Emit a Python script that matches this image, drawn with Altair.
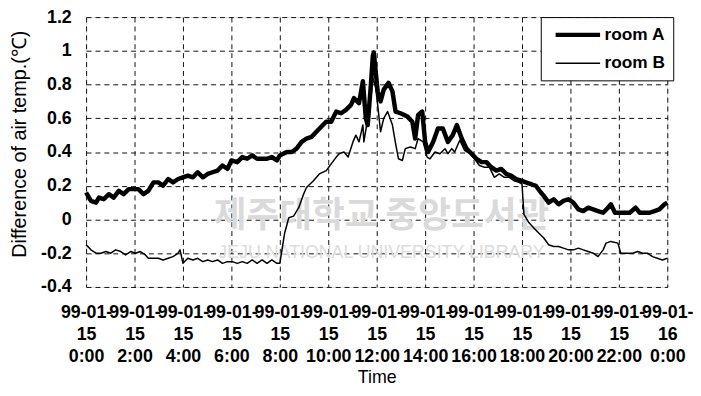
import altair as alt
import pandas as pd

# ---- data ----
hours_a = [0.00,0.20,0.41,0.53,0.73,0.94,1.14,1.35,1.55,1.76,2.00,2.16,2.37,2.57,2.78,2.98,3.18,3.39,3.59,3.80,
           4.00,4.20,4.41,4.61,4.82,5.02,5.22,5.43,5.63,5.84,6.00,6.24,6.45,6.65,6.86,7.06,7.27,7.47,7.67,7.88,
           8.00,8.29,8.49,8.69,8.90,9.10,9.31,9.51,9.71,9.92,10.12,10.33,10.53,10.73,10.94,11.06,11.27,11.43,11.55,11.63,
           11.76,11.84,11.88,12.04,12.16,12.29,12.49,12.65,12.78,12.98,13.27,13.47,13.59,13.71,13.88,14.00,14.12,14.33,14.53,14.73,
           14.94,15.14,15.31,15.51,15.71,15.92,16.12,16.33,16.53,16.73,16.94,17.14,17.35,17.55,17.76,17.96,18.16,18.37,18.57,18.78,
           18.90,19.10,19.31,19.51,19.71,19.92,20.12,20.33,20.53,20.73,20.94,21.14,21.35,21.55,21.67,21.84,22.04,22.24,22.45,22.69,
           22.86,23.06,23.27,23.47,23.67,23.88,24.00]
temp_a = [0.16,0.11,0.10,0.13,0.12,0.15,0.13,0.17,0.15,0.18,0.18,0.18,0.15,0.17,0.22,0.22,0.20,0.24,0.22,0.24,
          0.25,0.26,0.25,0.28,0.25,0.27,0.28,0.29,0.32,0.30,0.35,0.34,0.37,0.36,0.38,0.36,0.36,0.36,0.37,0.35,
          0.38,0.40,0.40,0.42,0.46,0.48,0.49,0.52,0.55,0.58,0.58,0.64,0.63,0.65,0.68,0.72,0.69,0.82,0.60,0.56,
          0.80,0.97,0.99,0.76,0.70,0.77,0.81,0.76,0.64,0.63,0.61,0.58,0.48,0.62,0.64,0.46,0.40,0.46,0.54,0.54,
          0.46,0.50,0.56,0.48,0.42,0.39,0.36,0.34,0.34,0.31,0.29,0.30,0.27,0.26,0.24,0.23,0.22,0.21,0.20,0.16,
          0.14,0.10,0.12,0.09,0.11,0.12,0.10,0.06,0.05,0.07,0.06,0.05,0.04,0.07,0.09,0.04,0.04,0.04,0.04,0.07,
          0.04,0.04,0.04,0.05,0.06,0.09,0.10]

hours_b = [0.00,0.20,0.41,0.61,0.82,1.02,1.22,1.43,1.63,1.84,2.04,2.24,2.45,2.57,2.78,2.98,3.18,3.39,3.59,3.80,
           3.88,4.00,4.20,4.41,4.61,4.82,5.02,5.22,5.43,5.63,5.84,6.04,6.24,6.45,6.65,6.86,7.06,7.27,7.47,7.67,
           7.88,8.00,8.20,8.37,8.57,8.78,8.98,9.10,9.39,9.63,9.92,10.12,10.33,10.45,10.65,10.82,11.02,11.14,11.27,11.43,
           11.47,11.63,11.76,11.84,11.96,12.04,12.16,12.29,12.45,12.65,12.78,12.90,13.06,13.18,13.39,13.59,13.71,13.92,14.08,14.20,
           14.41,14.61,14.82,14.94,15.10,15.22,15.43,15.63,15.84,16.04,16.24,16.45,16.65,16.86,17.06,17.27,17.47,17.67,17.88,18.00,
           18.08,18.29,18.49,18.69,18.90,19.10,19.31,19.51,19.71,19.92,20.12,20.33,20.53,20.73,20.94,21.14,21.35,21.47,21.67,21.96,
           22.08,22.37,22.57,22.78,22.98,23.18,23.39,23.59,23.80,24.00]
temp_b = [-0.15,-0.18,-0.20,-0.20,-0.19,-0.20,-0.18,-0.19,-0.21,-0.19,-0.20,-0.19,-0.21,-0.23,-0.23,-0.23,-0.24,-0.23,-0.22,-0.20,
          -0.18,-0.26,-0.23,-0.24,-0.23,-0.25,-0.24,-0.25,-0.24,-0.26,-0.25,-0.25,-0.26,-0.25,-0.26,-0.24,-0.26,-0.24,-0.26,-0.24,
          -0.26,-0.26,-0.08,0.01,0.02,0.07,0.15,0.19,0.23,0.27,0.29,0.33,0.37,0.39,0.40,0.37,0.46,0.50,0.46,0.56,
          0.46,0.60,0.72,0.84,0.78,0.68,0.52,0.60,0.64,0.56,0.45,0.36,0.35,0.42,0.43,0.42,0.48,0.46,0.37,0.36,
          0.40,0.39,0.42,0.39,0.42,0.40,0.47,0.41,0.39,0.36,0.32,0.31,0.31,0.25,0.27,0.25,0.25,0.23,0.22,0.21,
          0.03,-0.02,-0.05,-0.08,-0.11,-0.15,-0.16,-0.16,-0.17,-0.18,-0.18,-0.17,-0.18,-0.19,-0.20,-0.22,-0.18,-0.14,-0.13,-0.14,
          -0.20,-0.20,-0.20,-0.19,-0.20,-0.20,-0.22,-0.23,-0.24,-0.23]

series_names = ["room A", "room B"]
x_tick_hours = [0, 2, 4, 6, 8, 10, 12, 14, 16, 18, 20, 22, 24]
y_ticks = [-0.4, -0.2, 0.0, 0.2, 0.4, 0.6, 0.8, 1.0, 1.2]
watermark_text = ["제주대학교 중앙도서관", "JEJU NATIONAL UNIVERSITY LIBRARY"]
watermark_hour = [12.2, 12.2]
watermark_value = [0.02, -0.20]

df = pd.concat([
    pd.DataFrame({"hour": hours_a, "value": temp_a, "room": series_names[0]}),
    pd.DataFrame({"hour": hours_b, "value": temp_b, "room": series_names[1]}),
])
wm = pd.DataFrame({"hour": watermark_hour, "value": watermark_value, "text": watermark_text})

FONT = "Liberation Sans"
x_scale = alt.Scale(domain=[0, 24], nice=False, zero=False)
y_scale = alt.Scale(domain=[-0.4, 1.2], nice=False, zero=False)

x_axis = alt.Axis(
    values=x_tick_hours, tickCount=13,
    labelExpr="['99-01-', datum.value < 24 ? '15' : '16', (datum.value % 24) + ':00']",
    labelFont=FONT, labelFontSize=18, labelFontWeight="bold", labelColor="black",
    labelBaseline="top", labelLineHeight=22, labelPadding=17,
    labelOverlap=False, labelFlush=False, labelBound=False,
    ticks=False, domain=False,
    grid=True, gridColor="#111111", gridDash=[5, 4], gridWidth=1,
    title="Time", titleFont=FONT, titleFontSize=18, titleFontWeight="normal", titleColor="black",
    titleX=294, titleY=97, titleAlign="center", titleBaseline="alphabetic",
)
y_axis = alt.Axis(
    values=y_ticks, tickCount=9,
    labelExpr="toString(round(datum.value * 10) / 10)",
    labelFont=FONT, labelFontSize=18, labelFontWeight="bold", labelColor="black",
    labelPadding=15, labelOverlap=False, labelBound=False, labelFlush=False,
    ticks=False, domain=False,
    grid=True, gridColor="#111111", gridDash=[5, 4], gridWidth=1,
    title="Difference of air temp.(℃)", titleFont=FONT, titleFontSize=20,
    titleFontWeight="normal", titleColor="black",
    titleAngle=-90, titleX=-67, titleY=128, titleAlign="center", titleBaseline="middle",
)

def x_enc():
    return alt.X("hour:Q", scale=x_scale, axis=x_axis, title="Time")

def y_enc():
    return alt.Y("value:Q", scale=y_scale, axis=y_axis, title="Difference of air temp.(℃)")

watermark_big = alt.Chart(wm.iloc[[0]]).mark_text(
    font="Noto Sans CJK KR", fontSize=36, fontWeight="bold", color="#dadada"
).encode(x=x_enc(), y=y_enc(), text="text:N")
watermark_small = alt.Chart(wm.iloc[[1]]).mark_text(
    font=FONT, fontSize=18, color="#dcdcdc"
).encode(x=x_enc(), y=y_enc(), text="text:N")

lines = alt.Chart(df).mark_line(color="black", strokeJoin="round").encode(
    x=x_enc(),
    y=y_enc(),
    detail="room:N",
    strokeWidth=alt.StrokeWidth(
        "room:N",
        scale=alt.Scale(domain=series_names, range=[4.5, 1.5]),
        legend=alt.Legend(
            title=None, orient="none", legendX=460, legendY=0,
            symbolType="M-3,0H3", symbolSize=225, symbolStrokeColor="black",
            symbolOffset=19.5, labelOffset=17,
            labelFont=FONT, labelFontSize=17.5, labelFontWeight="bold", labelColor="black",
            fillColor="white", strokeColor="black", padding=8, rowPadding=10,
        ),
    ),
)

chart = alt.layer(watermark_big, watermark_small, lines).properties(
    width=588, height=273,
    autosize=alt.AutoSizeParams(type="none"),
    padding={"left": 79, "top": 7, "right": 26, "bottom": 98},
).configure_view(stroke="black", strokeWidth=1.5).configure(background="white")

chart.save("out.html", embed_options={"renderer": "svg", "actions": False})
